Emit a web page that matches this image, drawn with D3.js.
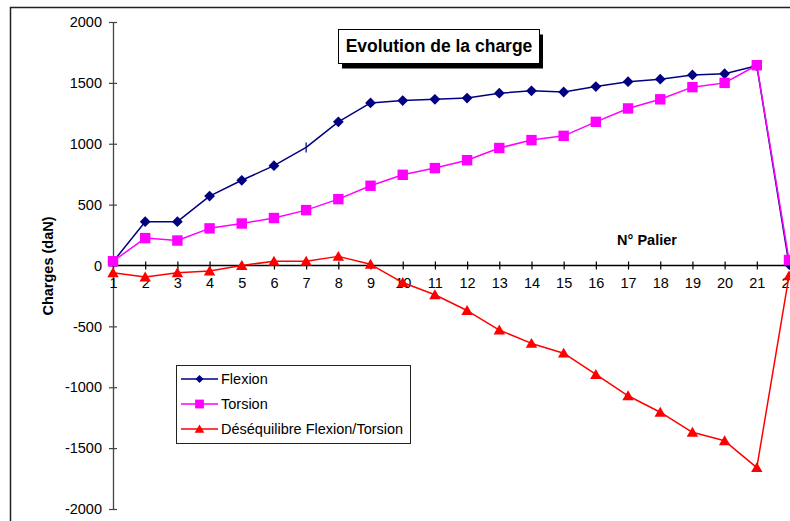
<!DOCTYPE html>
<html>
<head>
<meta charset="utf-8">
<script src="https://cdn.jsdelivr.net/npm/d3@7/dist/d3.min.js"></script>
<style>
  html, body { margin: 0; padding: 0; background: #fff; overflow: hidden; }
  svg { display: block; font-family: Arial, "Liberation Sans", sans-serif; }
</style>
</head>
<body>
<svg id="chart" width="790" height="521"></svg>
<script>
// Paliers de charge (axe des abscisses)
const paliers = [1, 2, 3, 4, 5, 6, 7, 8, 9, 10, 11, 12, 13, 14, 15, 16, 17, 18, 19, 20, 21, 22];

// Charges mesurées (daN)
const flexion = [30, 360, 360, 570, 700, 820, 970, 1180, 1335, 1355, 1365, 1375, 1415, 1435, 1425, 1470, 1510, 1530, 1565, 1575, 1640, 10];
const torsion = [35, 225, 205, 305, 345, 390, 455, 545, 655, 745, 800, 865, 965, 1030, 1065, 1180, 1290, 1365, 1465, 1500, 1645, 45];
const desequilibre = [-60, -95, -60, -45, 0, 35, 35, 75, 10, -140, -240, -370, -530, -640, -720, -895, -1070, -1205, -1370, -1440, -1660, -85];

// Graduations de l'axe des charges
const yTicks = [-2000, -1500, -1000, -500, 0, 500, 1000, 1500, 2000];

const titre = "Evolution de la charge";
const titreAxeX = "N° Palier";
const titreAxeY = "Charges (daN)";

const series = [
  { name: "Flexion", values: flexion, color: "#000080", symbol: "diamond" },
  { name: "Torsion", values: torsion, color: "#FF00FF", symbol: "square" },
  { name: "Déséquilibre Flexion/Torsion", values: desequilibre, color: "#FF0000", symbol: "triangle" }
];

const svg = d3.select("#chart");

// Cadre extérieur du graphique
svg.append("rect")
  .attr("x", 10.5).attr("y", 7.5)
  .attr("width", 820).attr("height", 540)
  .attr("fill", "#fff").attr("stroke", "#222").attr("stroke-width", 1.5);

const x = d3.scalePoint().domain(paliers).range([113, 789]);
const y = d3.scaleLinear().domain([-2000, 2000]).range([509, 22]);

// Axe vertical (trait d'union ASCII pour les valeurs négatives)
const yAxis = svg.append("g").attr("transform", `translate(${x(paliers[0])},0)`)
  .call(d3.axisLeft(y).tickValues(yTicks).tickSize(0).tickPadding(11).tickFormat(d => String(d)));
yAxis.select(".domain").attr("stroke", "#444").attr("stroke-width", 1.3);
yAxis.selectAll(".tick text").attr("font-size", 14.5).attr("fill", "#000")
  .attr("font-family", "Arial, 'Liberation Sans', sans-serif");
yAxis.selectAll(".tick").append("line")
  .attr("x1", -4).attr("x2", 4).attr("stroke", "#444").attr("stroke-width", 1.2);

// Axe horizontal passant par zéro
const xAxis = svg.append("g").attr("transform", `translate(0,${y(0)})`)
  .call(d3.axisBottom(x).tickSize(0).tickPadding(12));
xAxis.select(".domain").attr("d", `M${x(paliers[0])},0H830`).attr("stroke", "#000").attr("stroke-width", 1.3);
xAxis.selectAll(".tick text").attr("font-size", 14.5).attr("fill", "#000")
  .attr("font-family", "Arial, 'Liberation Sans', sans-serif");
xAxis.selectAll(".tick").append("line")
  .attr("y1", -4).attr("y2", 4).attr("stroke", "#000").attr("stroke-width", 1.2);

// Titres des axes
svg.append("text")
  .attr("x", 647).attr("y", 245)
  .attr("text-anchor", "middle").attr("font-size", 14.5).attr("font-weight", "bold")
  .text(titreAxeX);

svg.append("text")
  .attr("transform", `translate(53,266) rotate(-90)`)
  .attr("text-anchor", "middle").attr("font-size", 14.5).attr("font-weight", "bold")
  .text(titreAxeY);

// Symboles des séries
function drawMarker(g, kind, color, s) {
  if (kind === "diamond") {
    g.append("path").attr("d", `M0,${-s}L${s},0L0,${s}L${-s},0Z`).attr("fill", color);
  } else if (kind === "square") {
    g.append("rect").attr("x", -s).attr("y", -s).attr("width", 2 * s).attr("height", 2 * s).attr("fill", color);
  } else if (kind === "triangle") {
    g.append("path").attr("d", `M0,${-s * 1.05}L${s * 1.1},${s * 0.85}L${-s * 1.1},${s * 0.85}Z`).attr("fill", color);
  } else if (kind === "tick") {
    g.append("line").attr("y1", -5).attr("y2", 5).attr("stroke", color).attr("stroke-width", 1.2);
  }
}

const line = d3.line().x((d, i) => x(paliers[i])).y(d => y(d));

series.forEach(s => {
  const g = svg.append("g");
  g.append("path").datum(s.values)
    .attr("d", line).attr("fill", "none")
    .attr("stroke", s.color).attr("stroke-width", 1.5).attr("stroke-linejoin", "round");
  s.values.forEach((v, i) => {
    const m = g.append("g").attr("transform", `translate(${x(paliers[i])},${y(v)})`);
    // le palier 7 de la flexion n'a qu'un repère simple
    const kind = (s.name === "Flexion" && paliers[i] === 7) ? "tick" : s.symbol;
    drawMarker(m, kind, s.color, s.symbol === "diamond" ? 5.4 : 5.2);
  });
});

// Cartouche du titre avec ombre portée
const tb = { x: 338, y: 29.5, w: 201, h: 34 };
svg.append("rect").attr("x", tb.x + 4).attr("y", tb.y + 5).attr("width", tb.w).attr("height", tb.h).attr("fill", "#000");
svg.append("rect").attr("x", tb.x + 0.5).attr("y", tb.y).attr("width", tb.w).attr("height", tb.h)
  .attr("fill", "#fff").attr("stroke", "#000").attr("stroke-width", 1);
svg.append("text")
  .attr("x", tb.x + tb.w / 2 + 0.5).attr("y", tb.y + 22.5)
  .attr("text-anchor", "middle").attr("font-size", 17.5).attr("font-weight", "bold")
  .text(titre);

// Légende
const lg = svg.append("g");
lg.append("rect").attr("x", 176.5).attr("y", 365.5).attr("width", 234).attr("height", 78)
  .attr("fill", "#fff").attr("stroke", "#222").attr("stroke-width", 1);
series.forEach((s, i) => {
  const yy = 379 + i * 25;
  lg.append("line").attr("x1", 181).attr("x2", 218).attr("y1", yy).attr("y2", yy)
    .attr("stroke", s.color).attr("stroke-width", 1.5);
  const m = lg.append("g").attr("transform", `translate(199.5,${yy})`);
  drawMarker(m, s.symbol, s.color, s.symbol === "diamond" ? 4 : 4.4);
  lg.append("text").attr("x", 221).attr("y", yy + 5)
    .attr("font-size", 14.5).text(s.name);
});
</script>
</body>
</html>
